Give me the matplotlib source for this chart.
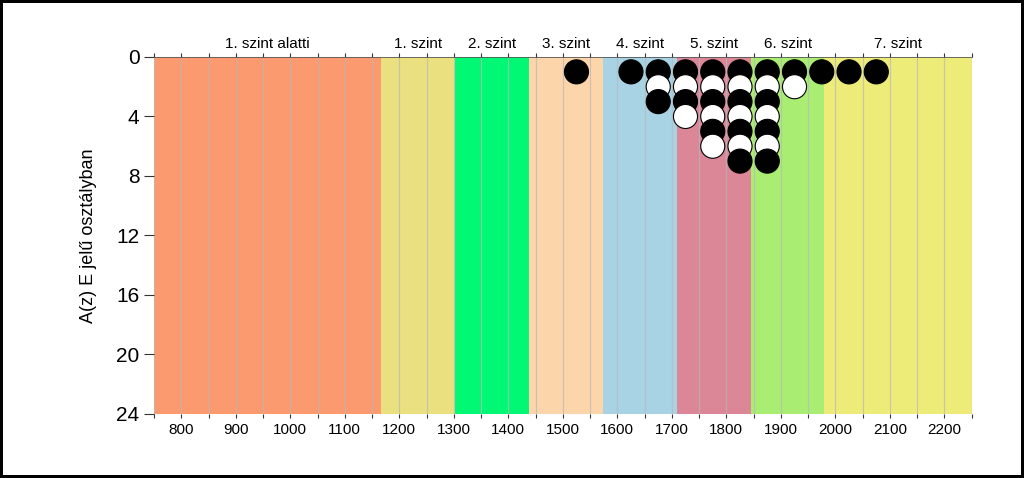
import matplotlib.pyplot as plt
from matplotlib.ticker import MultipleLocator
from matplotlib.transforms import blended_transform_factory

plt.rcParams['font.family'] = ['Liberation Sans', 'DejaVu Sans']

# kepessegszintek
szintek = ['1. szint alatti', '1. szint', '2. szint', '3. szint',
           '4. szint', '5. szint', '6. szint', '7. szint']
hatarok = [750, 1167, 1303, 1438, 1574, 1709, 1845, 1980, 2250]
szinek = ['#FC9A6F', '#EAE07F', '#00F874', '#FDD5AA',
          '#A8D3E4', '#DB8798', '#A9EE73', '#EEEC79']

# osztalyok szama pontszam-savonkent
sav_kozep = [1525, 1625, 1675, 1725, 1775, 1825, 1875, 1925, 1975, 2025, 2075]
osztalyok = [1, 1, 3, 4, 6, 7, 7, 2, 1, 1, 1]

fig = plt.figure(figsize=(10.24, 4.78), dpi=100)
fig.patch.set_edgecolor('black')
fig.patch.set_linewidth(3)
ax = fig.add_axes([0.1504, 0.1339, 0.7985, 0.7469])

for i in range(len(szintek)):
  ax.axvspan(hatarok[i], hatarok[i+1], color=szinek[i], lw=0, zorder=0)

trans = blended_transform_factory(ax.transData, ax.transAxes)
for i, nev in enumerate(szintek):
  xc = (hatarok[i] + hatarok[i+1]) / 2
  ax.text(xc, 1.025, nev, transform=trans, ha='center', va='baseline', fontsize=11)

xs, ys, cs = [], [], []
for x, n in zip(sav_kozep, osztalyok):
  for k in range(1, n+1):
    xs.append(x)
    ys.append(k)
    cs.append('black' if k % 2 == 1 else 'white')
ax.scatter(xs, ys, s=300, c=cs, edgecolors='black', linewidths=0.8, zorder=3, clip_on=False)

ax.set_xlim(750, 2250)
ax.set_ylim(24, 0)
ax.xaxis.set_minor_locator(MultipleLocator(50))
ax.set_xticks(range(800, 2201, 100))
ax.yaxis.set_major_locator(MultipleLocator(4))
ax.grid(axis='x', which='both', color='#B8B8B8', lw=0.9, alpha=0.7, zorder=1)
ax.set_axisbelow(True)

ax.tick_params(axis='x', which='both', top=True, bottom=True, direction='out',
               length=3, width=0.8, labelsize=11, color='#333333')
ax.tick_params(axis='y', which='major', direction='out', length=7, width=0.8,
               labelsize=15, color='#333333')
for s in ['left', 'right', 'bottom']:
  ax.spines[s].set_visible(False)
ax.spines['top'].set_color('#555555')
ax.spines['top'].set_linewidth(0.6)

ax.set_ylabel('A(z) E jelű osztályban', fontsize=13, labelpad=14)

fig.savefig('out.png', dpi=100, edgecolor=fig.get_edgecolor())
